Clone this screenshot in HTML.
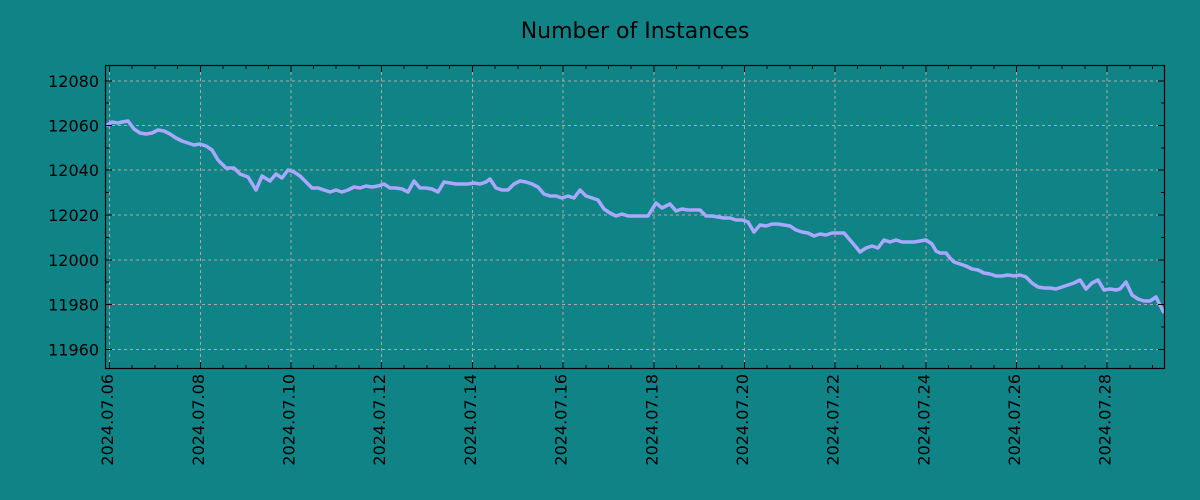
<!DOCTYPE html>
<html><head><meta charset="utf-8"><style>html,body{margin:0;padding:0;background:#108387;}svg{display:block}</style></head>
<body>
<svg width="1200" height="500" xmlns="http://www.w3.org/2000/svg" font-family="'DejaVu Sans','Liberation Sans',sans-serif">
<rect width="1200" height="500" fill="#108387"/>
<text x="635" y="38" font-size="22" text-anchor="middle" fill="#000">Number of Instances</text>
<g stroke="#d0b0a8" stroke-width="1" stroke-dasharray="3,3" opacity="0.85">
<line x1="106" x2="1164" y1="81" y2="81"/><line x1="106" x2="1164" y1="125.5" y2="125.5"/><line x1="106" x2="1164" y1="170" y2="170"/><line x1="106" x2="1164" y1="215" y2="215"/><line x1="106" x2="1164" y1="260" y2="260"/><line x1="106" x2="1164" y1="304.5" y2="304.5"/><line x1="106" x2="1164" y1="349.5" y2="349.5"/>
<line y1="66" y2="368" x1="109.5" x2="109.5"/><line y1="66" y2="368" x1="200.5" x2="200.5"/><line y1="66" y2="368" x1="291" x2="291"/><line y1="66" y2="368" x1="381.5" x2="381.5"/><line y1="66" y2="368" x1="472.5" x2="472.5"/><line y1="66" y2="368" x1="563" x2="563"/><line y1="66" y2="368" x1="654" x2="654"/><line y1="66" y2="368" x1="744.5" x2="744.5"/><line y1="66" y2="368" x1="835" x2="835"/><line y1="66" y2="368" x1="926" x2="926"/><line y1="66" y2="368" x1="1016.5" x2="1016.5"/><line y1="66" y2="368" x1="1107" x2="1107"/>
</g>
<polyline fill="none" stroke="#a8a8ff" stroke-width="3.5" stroke-linejoin="round" points="106,126 112,122 118,123 122,122 128,121 134,129 140,133 146,134 152,133 158,130 164,131 170,134 176,138 182,141 188,143 194,145 200,144 206,146 212,150 218,160 226,168 234,168 240,174 248,177 256,190 262,176 270,181 276,174 282,178 288,170 294,172 300,176 306,182 312,188 318,188 324,190 330,192 336,190 342,192 348,190 354,187 360,188 366,186 372,187 378,186 384,184 390,188 396,188 402,189 408,192 414,181 420,188 426,188 432,189 438,192 444,182 450,183 456,184 462,184 468,184 474,183 480,184 486,182 490,179 496,188 502,190 508,190 514,184 520,181 526,182 532,184 538,187 544,194 550,196 556,196 562,198 568,196 574,198 580,190 586,196 592,198 598,200 604,209 610,213 616,216 622,214 628,216 634,216 640,216 648,216 656,203 662,208 670,204 676,211 682,209 688,210 694,210 700,210 706,216 712,216 718,217 724,218 730,218 736,220 742,220 748,222 754,232 760,225 766,226 772,224 778,224 784,225 790,226 796,230 802,232 808,233 814,236 820,234 826,235 832,233 838,233 844,233 850,240 856,247 860,252 866,248 872,246 878,248 884,240 890,242 896,240 902,242 908,242 914,242 920,241 926,240 932,244 936,251 940,253 946,253 950,258 954,262 960,264 966,266 972,269 978,270 984,273 990,274 996,276 1002,276 1008,275 1014,276 1020,275 1026,277 1032,283 1038,287 1044,288 1050,288 1056,289 1062,287 1068,285 1074,283 1080,280 1086,289 1092,283 1098,280 1104,290 1110,289 1116,290 1120,289 1126,282 1132,295 1138,299 1144,301 1150,301 1156,297 1160,305 1164,313"/>
<rect x="105.5" y="65.5" width="1059" height="303" fill="none" stroke="#000" stroke-width="1.2"/>
<g stroke="#000" stroke-width="1">
<path d="M106 81h6M106 125.5h6M106 170h6M106 215h6M106 260h6M106 304.5h6M106 349.5h6M1164 81h-6M1164 125.5h-6M1164 170h-6M1164 215h-6M1164 260h-6M1164 304.5h-6M1164 349.5h-6"/>
<path d="M106 103h3M106 148h3M106 192.5h3M106 237.5h3M106 282h3M106 327h3M1164 103h-3M1164 148h-3M1164 192.5h-3M1164 237.5h-3M1164 282h-3M1164 327h-3"/>
<path d="M109.5 368v-6M200.5 368v-6M291 368v-6M381.5 368v-6M472.5 368v-6M563 368v-6M654 368v-6M744.5 368v-6M835 368v-6M926 368v-6M1016.5 368v-6M1107 368v-6M109.5 66v6M200.5 66v6M291 66v6M381.5 66v6M472.5 66v6M563 66v6M654 66v6M744.5 66v6M835 66v6M926 66v6M1016.5 66v6M1107 66v6"/>
<path d="M132 368v-3M155 368v-3M177.5 368v-3M223 368v-3M246 368v-3M268.5 368v-3M313.5 368v-3M336 368v-3M359 368v-3M404 368v-3M427 368v-3M449.5 368v-3M495 368v-3M518 368v-3M540.5 368v-3M586 368v-3M608.5 368v-3M631 368v-3M676.5 368v-3M699 368v-3M722 368v-3M767 368v-3M790 368v-3M812.5 368v-3M857.5 368v-3M880.5 368v-3M903 368v-3M948.5 368v-3M971 368v-3M994 368v-3M1039 368v-3M1062 368v-3M1085 368v-3M1130 368v-3M1152.5 368v-3"/>
<path d="M132 66v3M155 66v3M177.5 66v3M223 66v3M246 66v3M268.5 66v3M313.5 66v3M336 66v3M359 66v3M404 66v3M427 66v3M449.5 66v3M495 66v3M518 66v3M540.5 66v3M586 66v3M608.5 66v3M631 66v3M676.5 66v3M699 66v3M722 66v3M767 66v3M790 66v3M812.5 66v3M857.5 66v3M880.5 66v3M903 66v3M948.5 66v3M971 66v3M994 66v3M1039 66v3M1062 66v3M1085 66v3M1130 66v3M1152.5 66v3"/>
</g>
<g font-size="16" fill="#000" text-anchor="end">
<text x="99" y="87">12080</text><text x="99" y="131.5">12060</text><text x="99" y="176">12040</text><text x="99" y="221">12020</text><text x="99" y="266">12000</text><text x="99" y="310.5">11980</text><text x="99" y="355.5">11960</text>
</g>
<g font-size="16" fill="#000" text-anchor="end">
<text transform="translate(113,374) rotate(-90)">2024.07.06</text>
<text transform="translate(204,374) rotate(-90)">2024.07.08</text>
<text transform="translate(294.5,374) rotate(-90)">2024.07.10</text>
<text transform="translate(385,374) rotate(-90)">2024.07.12</text>
<text transform="translate(476,374) rotate(-90)">2024.07.14</text>
<text transform="translate(566.5,374) rotate(-90)">2024.07.16</text>
<text transform="translate(657.5,374) rotate(-90)">2024.07.18</text>
<text transform="translate(748,374) rotate(-90)">2024.07.20</text>
<text transform="translate(838.5,374) rotate(-90)">2024.07.22</text>
<text transform="translate(929.5,374) rotate(-90)">2024.07.24</text>
<text transform="translate(1020,374) rotate(-90)">2024.07.26</text>
<text transform="translate(1110.5,374) rotate(-90)">2024.07.28</text>
</g>
</svg>
</body></html>
